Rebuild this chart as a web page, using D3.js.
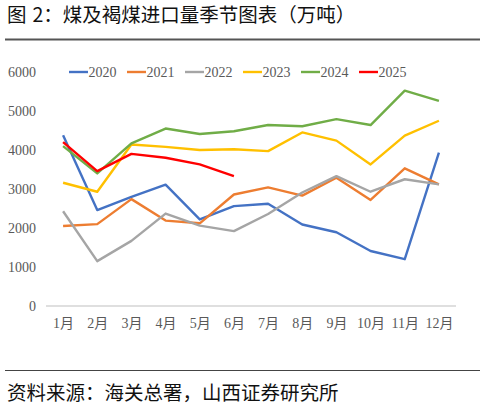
<!DOCTYPE html>
<html>
<head>
<meta charset="utf-8">
<script src="https://cdn.jsdelivr.net/npm/d3@7"></script>
<style>
  body { margin: 0; background: #fff; }
  svg { display: block; }
</style>
</head>
<body>
<script>
// data (万吨)
var months = ["1月", "2月", "3月", "4月", "5月", "6月", "7月", "8月", "9月", "10月", "11月", "12月"];
var years = ["2020", "2021", "2022", "2023", "2024", "2025"];
var colors = ["#4472C4", "#ED7D31", "#A5A5A5", "#FFC000", "#70AD47", "#FF0000"];
var yTicks = [0, 1000, 2000, 3000, 4000, 5000, 6000];

var v2020 = [4380, 2460, 2800, 3110, 2220, 2560, 2620, 2090, 1890, 1410, 1200, 3930];
var v2021 = [2050, 2100, 2740, 2190, 2120, 2860, 3040, 2830, 3290, 2720, 3530, 3120];
var v2022 = [2430, 1150, 1670, 2370, 2060, 1920, 2360, 2910, 3330, 2930, 3250, 3120];
var v2023 = [3160, 2930, 4140, 4080, 4000, 4020, 3970, 4450, 4240, 3630, 4370, 4750];
var v2024 = [4100, 3400, 4170, 4550, 4410, 4480, 4640, 4610, 4790, 4640, 5520, 5260];
var v2025 = [4200, 3460, 3900, 3800, 3630, 3330];

var series = [v2020, v2021, v2022, v2023, v2024, v2025];

var W = 485, H = 411;
var svg = d3.select("body").append("svg")
    .attr("width", W)
    .attr("height", H);

// title + rule
var title = svg.append("text")
    .attr("x", 7)
    .attr("y", 22)
    .attr("font-family", "'Noto Sans CJK SC', sans-serif")
    .attr("font-size", "19.5px")
    .attr("fill", "#111");
title.append("tspan").text("图");
title.append("tspan").attr("dx", 6).text("2：煤及褐煤进口量季节图表（万吨）");

svg.append("line")
    .attr("x1", 5).attr("x2", 480)
    .attr("y1", 39.5).attr("y2", 39.5)
    .attr("stroke", "#555").attr("stroke-width", 2);

// footer
svg.append("line")
    .attr("x1", 5).attr("x2", 480)
    .attr("y1", 370.5).attr("y2", 370.5)
    .attr("stroke", "#444").attr("stroke-width", 1);

svg.append("text")
    .attr("x", 7)
    .attr("y", 400)
    .attr("font-family", "'Noto Sans CJK SC', sans-serif")
    .attr("font-size", "19.5px")
    .attr("fill", "#111")
    .text("资料来源：海关总署，山西证券研究所");

// scales
var x = d3.scalePoint().domain(months).range([46, 456]).padding(0.5);
var y = d3.scaleLinear().domain([0, 6000]).range([306, 72]);

var tickFont = "'Liberation Serif', 'Times New Roman', 'Noto Sans CJK SC', serif";

// y axis labels (no axis line)
var yAxis = svg.append("g")
    .attr("transform", "translate(36,0)")
    .call(d3.axisLeft(y).tickValues(yTicks).tickSize(0).tickPadding(0).tickFormat(d3.format("d")));
yAxis.select(".domain").remove();
yAxis.selectAll("text")
    .attr("font-family", tickFont)
    .attr("font-size", "14px")
    .attr("fill", "#595959");

// x axis
var xAxis = svg.append("g")
    .attr("transform", "translate(0,306)")
    .call(d3.axisBottom(x).tickSize(0).tickPadding(12));
xAxis.select(".domain")
    .attr("d", "M46,0H456")
    .attr("stroke", "#BFBFBF")
    .attr("stroke-width", 1.2);
xAxis.selectAll("text")
    .attr("font-family", tickFont)
    .attr("font-size", "14px")
    .attr("fill", "#595959");

// lines
var line = d3.line()
    .x(function(d, i) { return x(months[i]); })
    .y(function(d) { return y(d); });

svg.selectAll(".series")
    .data(series)
    .enter()
    .append("path")
    .attr("class", "series")
    .attr("d", line)
    .attr("fill", "none")
    .attr("stroke", function(d, i) { return colors[i]; })
    .attr("stroke-width", 2.4)
    .attr("stroke-linejoin", "round");

// legend
var legend = svg.selectAll(".legend")
    .data(years)
    .enter()
    .append("g")
    .attr("class", "legend")
    .attr("transform", function(d, i) { return "translate(" + (69 + i * 58) + ",72)"; });

legend.append("line")
    .attr("x1", 0).attr("x2", 19)
    .attr("stroke", function(d, i) { return colors[i]; })
    .attr("stroke-width", 2.4);

legend.append("text")
    .attr("x", 19.5)
    .attr("dy", "0.35em")
    .attr("font-family", tickFont)
    .attr("font-size", "14px")
    .attr("fill", "#595959")
    .text(function(d) { return d; });
</script>
</body>
</html>
